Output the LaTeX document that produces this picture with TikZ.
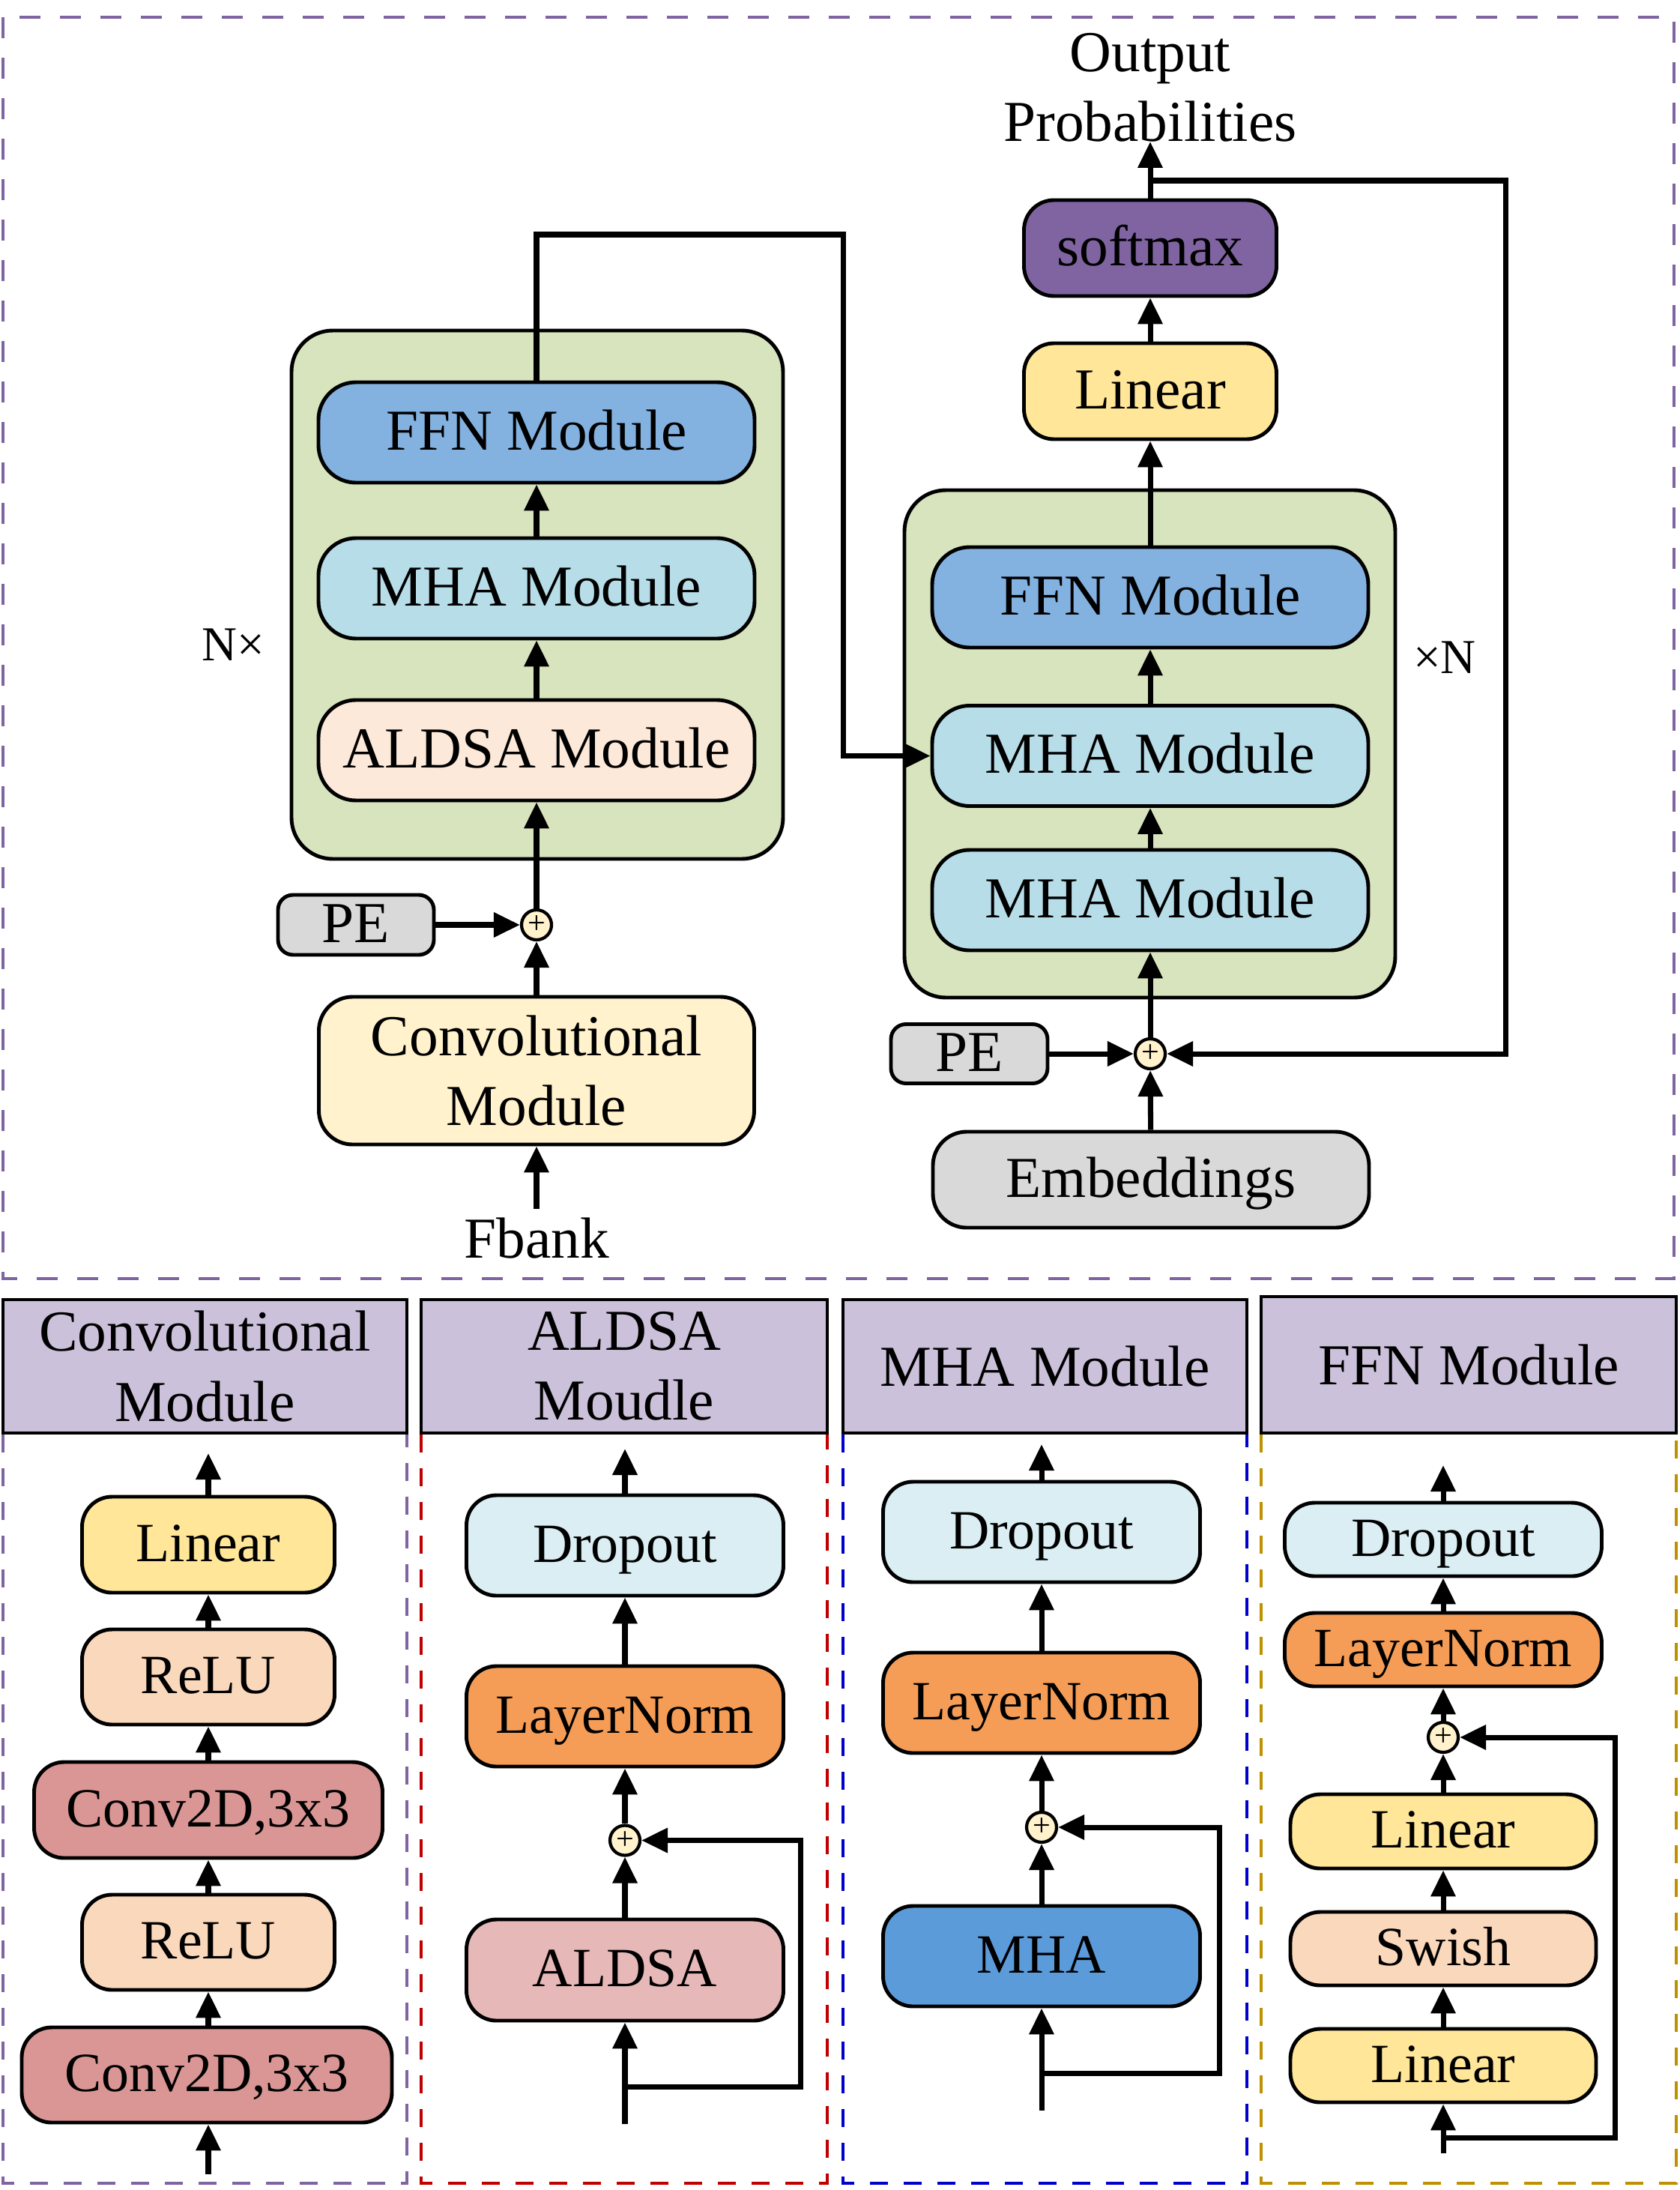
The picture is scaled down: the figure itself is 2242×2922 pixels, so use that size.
\documentclass[tikz,border=0pt]{standalone}
\usepackage{fontspec}
\setmainfont{Liberation Serif}
\usepackage{tikz}
\usetikzlibrary{arrows.meta}

\definecolor{violetdash}{HTML}{8064A2}
\definecolor{reddash}{HTML}{C00000}
\definecolor{bluedash}{HTML}{0000CC}
\definecolor{golddash}{HTML}{BF9000}
\definecolor{stackgreen}{HTML}{D7E4BD}
\definecolor{ffnblue}{HTML}{84B2E0}
\definecolor{mhacyan}{HTML}{B7DDE8}
\definecolor{aldsacream}{HTML}{FDE9D9}
\definecolor{convcream}{HTML}{FFF2CC}
\definecolor{pegray}{HTML}{D9D9D9}
\definecolor{softpurple}{HTML}{8064A2}
\definecolor{linyellow}{HTML}{FFE699}
\definecolor{hdrlav}{HTML}{CCC1DA}
\definecolor{relupeach}{HTML}{FAD8BC}
\definecolor{convred}{HTML}{D99694}
\definecolor{dropcyan}{HTML}{DAEEF3}
\definecolor{lnorange}{HTML}{F59D56}
\definecolor{aldsarose}{HTML}{E6B9B8}
\definecolor{mhadeep}{HTML}{5C9BD9}
\definecolor{sumcream}{HTML}{FFF2CC}

\newcommand{\bigsz}{\fontsize{22}{26.5}\selectfont}
\newcommand{\boxsz}{\fontsize{21}{25}\selectfont}
\newcommand{\labsz}{\fontsize{18.5}{22}\selectfont}
\newcommand{\sumsz}{\fontsize{12}{14}\selectfont}

\tikzstyle{arrow}   = [line width=2pt, -{Triangle[length=3.5mm, width=3.2mm]}]
\tikzstyle{wire}    = [line width=2pt]
\tikzstyle{stackbg} = [draw, line width=1.4pt, rounded corners=5.5mm, fill=stackgreen]
\tikzstyle{blk}     = [draw, line width=1.4pt, rounded corners=5mm, minimum width=58.2mm, minimum height=13.4mm, inner sep=0pt, font=\bigsz, text height=16.5pt, text depth=3.3pt]
\tikzstyle{blktwo}  = [draw, line width=1.4pt, rounded corners=4.5mm, align=center, inner sep=0pt, font=\bigsz]
\tikzstyle{sbox}    = [draw, line width=1.4pt, rounded corners=4mm, minimum width=42.3mm, minimum height=13.4mm, inner sep=0pt, font=\boxsz, text height=15.75pt, text depth=3.15pt]
\tikzstyle{hdr}     = [draw, line width=1.2pt, fill=hdrlav, minimum height=17.8mm, align=center, inner sep=0pt, font=\bigsz]
\tikzstyle{sumnode} = [draw, circle, line width=1.2pt, fill=sumcream, minimum size=4mm, inner sep=0pt, font=\sumsz]
\tikzstyle{panel}   = [line width=0.35mm, dash pattern=on 2.4mm off 2.1mm]

\begin{document}
\begin{tikzpicture}[x=0.1mm, y=-0.1mm]
\useasboundingbox (0,0) rectangle (2242,2922);

% upper part
\draw[line width=0.45mm, violetdash, dash pattern=on 2.8mm off 2.6mm] (4,23) rectangle (2234,1706);

% encoder
\node[stackbg, minimum width=65.6mm, minimum height=70.5mm] (encbg) at (717,793.5) {};
\node[blk, fill=ffnblue] (encffn) at (716,577) {FFN Module};
\node[blk, fill=mhacyan] (encmha) at (716,785) {MHA Module};
\node[blk, fill=aldsacream] (encaldsa) at (716,1001) {ALDSA Module};
\node[sumnode] (encsum) at (716,1234) {+};
\node[blk, fill=pegray, minimum width=20.8mm, minimum height=8mm, rounded corners=2mm] (encpe) at (475,1234) {PE};
\node[blktwo, fill=convcream, minimum width=58.1mm, minimum height=19.7mm] (encconv) at (716,1428.5) {Convolutional\\Module};
\node[anchor=base, font=\bigsz] (fbank) at (716,1678) {Fbank};
\node[anchor=base, font=\labsz] (encnx) at (311,881) {N×};
\coordinate (fbankin) at (716,1613);
\coordinate (encup) at (716,313);
\coordinate (crossx) at (1125,313);

\draw[arrow] (fbankin) -- (encconv);
\draw[arrow] (encconv) -- (encsum);
\draw[arrow] (encpe) -- (encsum);
\draw[arrow] (encsum) -- (encaldsa);
\draw[arrow] (encaldsa) -- (encmha);
\draw[arrow] (encmha) -- (encffn);

% decoder
\node[stackbg, minimum width=65.5mm, minimum height=67.7mm] (decbg) at (1534.5,992.5) {};
\node[blk, fill=ffnblue] (decffn) at (1535,797) {FFN Module};
\node[blk, fill=mhacyan] (decmha2) at (1535,1008.5) {MHA Module};
\node[blk, fill=mhacyan] (decmha1) at (1535,1201) {MHA Module};
\node[blk, fill=linyellow, minimum width=33.7mm, minimum height=12.8mm, rounded corners=4mm] (declin) at (1535,522) {Linear};
\node[blk, fill=softpurple, minimum width=33.7mm, minimum height=12.8mm, rounded corners=4mm] (decsoft) at (1535,331) {softmax};
\node[sumnode] (decsum) at (1535,1406) {+};
\node[blk, fill=pegray, minimum width=20.9mm, minimum height=7.9mm, rounded corners=2mm] (decpe) at (1293.5,1406) {PE};
\node[blk, fill=pegray, minimum height=12.8mm, rounded corners=4.5mm] (decemb) at (1536,1574) {Embeddings};
\node[align=center, font=\bigsz] (outp) at (1535,117) {Output\\Probabilities};
\node[anchor=base, font=\labsz] (decnx) at (1928,898) {×N};
\coordinate (outtip) at (1535,189);
\coordinate (fbturn) at (1535,241);
\coordinate (fbcorner) at (2009,241);

\draw[arrow] (encffn) -- (encup) -- (crossx) |- (decmha2);
\draw[arrow] (decemb) -- (decsum);
\draw[arrow] (decpe) -- (decsum);
\draw[arrow] (decsum) -- (decmha1);
\draw[arrow] (decmha1) -- (decmha2);
\draw[arrow] (decmha2) -- (decffn);
\draw[arrow] (decffn) -- (declin);
\draw[arrow] (declin) -- (decsoft);
\draw[arrow] (decsoft) -- (outtip);
\draw[arrow] (fbturn) -- (fbcorner) |- (decsum);

% lower panels
\foreach \xa/\xb/\col in {4/543/violetdash, 562/1104/reddash, 1125/1664/bluedash, 1683/2237/golddash}
  \draw[panel, \col] (\xa,1734) rectangle (\xb,2913);

\node[hdr, minimum width=53.9mm] (convhdr) at (273.5,1823) {Convolutional\\Module};
\node[hdr, minimum width=54.2mm] (aldsahdr) at (833,1823) {ALDSA\\Moudle};
\node[hdr, minimum width=53.9mm] (mhahdr) at (1394.5,1823) {MHA Module};
\node[hdr, minimum width=55.4mm, minimum height=18.2mm] (ffnhdr) at (1960,1821) {FFN Module};

% convolutional module
\node[sbox, fill=linyellow, minimum width=33.7mm, minimum height=12.8mm] (c1lin) at (278,2061) {Linear};
\node[sbox, fill=relupeach, minimum width=33.7mm, minimum height=12.7mm] (c1relu2) at (278,2237.5) {ReLU};
\node[sbox, fill=convred, minimum width=46.5mm, minimum height=12.8mm] (c1conv2) at (278,2415) {Conv2D,3x3};
\node[sbox, fill=relupeach, minimum width=33.7mm, minimum height=12.7mm] (c1relu1) at (278,2591.5) {ReLU};
\node[sbox, fill=convred, minimum width=49.4mm, minimum height=12.7mm] (c1conv1) at (276,2768.5) {Conv2D,3x3};
\coordinate (c1in) at (278,2901);
\coordinate (c1out) at (278,1939);

\draw[arrow] (c1in) -- (c1conv1.south -| c1in);
\draw[arrow] (c1conv1.north -| c1in) -- (c1relu1);
\draw[arrow] (c1relu1) -- (c1conv2);
\draw[arrow] (c1conv2) -- (c1relu2);
\draw[arrow] (c1relu2) -- (c1lin);
\draw[arrow] (c1lin) -- (c1out);

% aldsa module
\node[sbox, fill=dropcyan] (a2drop) at (834,2062) {Dropout};
\node[sbox, fill=lnorange] (a2ln) at (834,2290) {LayerNorm};
\node[sumnode] (a2sum) at (834,2455.5) {+};
\node[sbox, fill=aldsarose, minimum height=13.5mm] (a2aldsa) at (834,2628.5) {ALDSA};
\coordinate (a2in) at (834,2834);
\coordinate (a2split) at (834,2784);
\coordinate (a2side) at (1068,2784);
\coordinate (a2out) at (834,1933);

\draw[arrow] (a2in) -- (a2aldsa);
\draw[arrow] (a2split) -- (a2side) |- (a2sum);
\draw[arrow] (a2aldsa) -- (a2sum);
\draw[arrow] (a2sum) -- (a2ln);
\draw[arrow] (a2ln) -- (a2drop);
\draw[arrow] (a2drop) -- (a2out);

% mha module
\node[sbox, fill=dropcyan] (m3drop) at (1390,2044) {Dropout};
\node[sbox, fill=lnorange] (m3ln) at (1390,2272) {LayerNorm};
\node[sumnode] (m3sum) at (1390,2438) {+};
\node[sbox, fill=mhadeep] (m3mha) at (1390,2610) {MHA};
\coordinate (m3in) at (1390,2816);
\coordinate (m3split) at (1390,2766);
\coordinate (m3side) at (1627,2766);
\coordinate (m3out) at (1390,1927);

\draw[arrow] (m3in) -- (m3mha);
\draw[arrow] (m3split) -- (m3side) |- (m3sum);
\draw[arrow] (m3mha) -- (m3sum);
\draw[arrow] (m3sum) -- (m3ln);
\draw[arrow] (m3ln) -- (m3drop);
\draw[arrow] (m3drop) -- (m3out);

% ffn module
\node[sbox, fill=dropcyan, minimum height=9.8mm] (f4drop) at (1926,2054) {Dropout};
\node[sbox, fill=lnorange, minimum height=9.8mm] (f4ln) at (1926,2201) {LayerNorm};
\node[sumnode] (f4sum) at (1926,2318) {+};
\node[sbox, fill=linyellow, minimum width=40.8mm, minimum height=9.9mm] (f4lin2) at (1926,2443.5) {Linear};
\node[sbox, fill=relupeach, minimum width=40.8mm, minimum height=9.8mm] (f4swish) at (1926,2600) {Swish};
\node[sbox, fill=linyellow, minimum width=40.8mm, minimum height=9.8mm] (f4lin1) at (1926,2756) {Linear};
\coordinate (f4in) at (1926,2873);
\coordinate (f4split) at (1926,2852);
\coordinate (f4side) at (2155,2852);
\coordinate (f4out) at (1926,1955);

\draw[arrow] (f4in) -- (f4lin1);
\draw[arrow] (f4split) -- (f4side) |- (f4sum);
\draw[arrow] (f4lin1) -- (f4swish);
\draw[arrow] (f4swish) -- (f4lin2);
\draw[arrow] (f4lin2) -- (f4sum);
\draw[arrow] (f4sum) -- (f4ln);
\draw[arrow] (f4ln) -- (f4drop);
\draw[arrow] (f4drop) -- (f4out);
\end{tikzpicture}
\end{document}
